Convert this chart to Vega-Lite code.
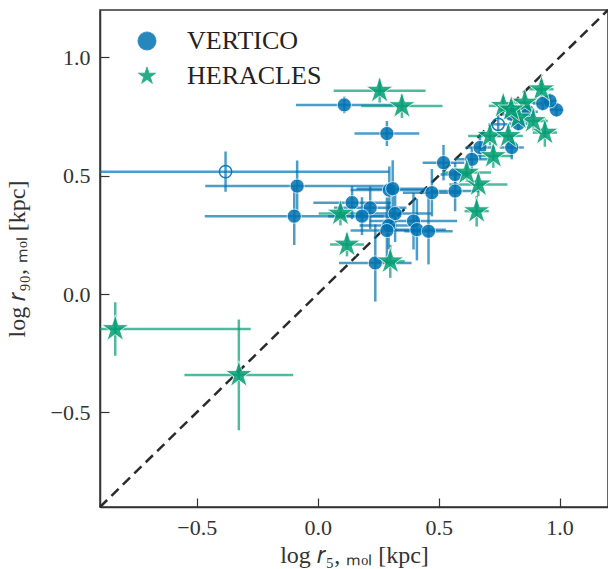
{
  "$schema": "https://vega.github.io/schema/vega-lite/v6.json",
  "width": 508,
  "height": 497,
  "autosize": {"type": "none"},
  "padding": {"left": 100, "top": 10, "right": 0, "bottom": 62},
  "datasets": {
    "pts": [
      {"survey": "VERTICO", "x": 0.110, "y": 0.799, "xerr": 0.20, "yerr": 0.035, "open": false},
      {"survey": "VERTICO", "x": 0.286, "y": 0.678, "xerr": 0.134, "yerr": 0.053, "open": false},
      {"survey": "VERTICO", "x": -0.381, "y": 0.517, "xerr": 0.677, "yerr": 0.085, "open": true},
      {"survey": "VERTICO", "x": -0.085, "y": 0.456, "xerr": 0.38, "yerr": 0.108, "open": false},
      {"survey": "VERTICO", "x": -0.097, "y": 0.329, "xerr": 0.37, "yerr": 0.122, "open": false},
      {"survey": "VERTICO", "x": 0.472, "y": 0.428, "xerr": 0.12, "yerr": 0.10, "open": false},
      {"survey": "VERTICO", "x": 0.520, "y": 0.555, "xerr": 0.086, "yerr": 0.075, "open": false},
      {"survey": "VERTICO", "x": 0.568, "y": 0.435, "xerr": 0.10, "yerr": 0.085, "open": false},
      {"survey": "VERTICO", "x": 0.568, "y": 0.505, "xerr": 0.06, "yerr": 0.05, "open": false},
      {"survey": "VERTICO", "x": 0.637, "y": 0.569, "xerr": 0.07, "yerr": 0.05, "open": false},
      {"survey": "VERTICO", "x": 0.671, "y": 0.619, "xerr": 0.06, "yerr": 0.05, "open": false},
      {"survey": "VERTICO", "x": 0.802, "y": 0.619, "xerr": 0.05, "yerr": 0.05, "open": false},
      {"survey": "VERTICO", "x": 0.746, "y": 0.717, "xerr": 0.04, "yerr": 0.04, "open": true},
      {"survey": "VERTICO", "x": 0.987, "y": 0.778, "xerr": 0.03, "yerr": 0.03, "open": false},
      {"survey": "VERTICO", "x": 0.960, "y": 0.816, "xerr": 0.03, "yerr": 0.03, "open": false},
      {"survey": "VERTICO", "x": 0.930, "y": 0.805, "xerr": 0.04, "yerr": 0.03, "open": false},
      {"survey": "VERTICO", "x": 0.830, "y": 0.720, "xerr": 0.04, "yerr": 0.03, "open": false},
      {"survey": "VERTICO", "x": 0.870, "y": 0.770, "xerr": 0.04, "yerr": 0.03, "open": false},
      {"survey": "VERTICO", "x": 0.800, "y": 0.760, "xerr": 0.04, "yerr": 0.03, "open": false},
      {"survey": "VERTICO", "x": 0.142, "y": 0.386, "xerr": 0.16, "yerr": 0.07, "open": false},
      {"survey": "VERTICO", "x": 0.217, "y": 0.364, "xerr": 0.15, "yerr": 0.09, "open": false},
      {"survey": "VERTICO", "x": 0.183, "y": 0.329, "xerr": 0.14, "yerr": 0.08, "open": false},
      {"survey": "VERTICO", "x": 0.296, "y": 0.439, "xerr": 0.16, "yerr": 0.10, "open": false},
      {"survey": "VERTICO", "x": 0.310, "y": 0.445, "xerr": 0.15, "yerr": 0.12, "open": false},
      {"survey": "VERTICO", "x": 0.320, "y": 0.340, "xerr": 0.15, "yerr": 0.12, "open": false},
      {"survey": "VERTICO", "x": 0.293, "y": 0.289, "xerr": 0.12, "yerr": 0.10, "open": false},
      {"survey": "VERTICO", "x": 0.286, "y": 0.268, "xerr": 0.15, "yerr": 0.14, "open": false},
      {"survey": "VERTICO", "x": 0.396, "y": 0.308, "xerr": 0.18, "yerr": 0.12, "open": false},
      {"survey": "VERTICO", "x": 0.410, "y": 0.272, "xerr": 0.12, "yerr": 0.13, "open": false},
      {"survey": "VERTICO", "x": 0.458, "y": 0.265, "xerr": 0.10, "yerr": 0.14, "open": false},
      {"survey": "VERTICO", "x": 0.238, "y": 0.131, "xerr": 0.15, "yerr": 0.163, "open": false},
      {"survey": "HERACLES", "x": 0.256, "y": 0.859, "xerr": 0.19, "yerr": 0.05, "open": false},
      {"survey": "HERACLES", "x": 0.348, "y": 0.794, "xerr": 0.168, "yerr": 0.05, "open": false},
      {"survey": "HERACLES", "x": -0.837, "y": -0.148, "xerr": 0.56, "yerr": 0.113, "open": false},
      {"survey": "HERACLES", "x": -0.326, "y": -0.342, "xerr": 0.225, "yerr": 0.234, "open": false},
      {"survey": "HERACLES", "x": 0.094, "y": 0.340, "xerr": 0.09, "yerr": 0.05, "open": false},
      {"survey": "HERACLES", "x": 0.121, "y": 0.209, "xerr": 0.07, "yerr": 0.05, "open": false},
      {"survey": "HERACLES", "x": 0.300, "y": 0.138, "xerr": 0.06, "yerr": 0.07, "open": false},
      {"survey": "HERACLES", "x": 0.657, "y": 0.350, "xerr": 0.05, "yerr": 0.065, "open": false},
      {"survey": "HERACLES", "x": 0.664, "y": 0.463, "xerr": 0.12, "yerr": 0.05, "open": false},
      {"survey": "HERACLES", "x": 0.616, "y": 0.513, "xerr": 0.10, "yerr": 0.04, "open": false},
      {"survey": "HERACLES", "x": 0.726, "y": 0.583, "xerr": 0.08, "yerr": 0.05, "open": false},
      {"survey": "HERACLES", "x": 0.712, "y": 0.668, "xerr": 0.09, "yerr": 0.04, "open": false},
      {"survey": "HERACLES", "x": 0.788, "y": 0.668, "xerr": 0.06, "yerr": 0.05, "open": false},
      {"survey": "HERACLES", "x": 0.767, "y": 0.795, "xerr": 0.06, "yerr": 0.04, "open": false},
      {"survey": "HERACLES", "x": 0.925, "y": 0.865, "xerr": 0.05, "yerr": 0.04, "open": false},
      {"survey": "HERACLES", "x": 0.856, "y": 0.809, "xerr": 0.05, "yerr": 0.04, "open": false},
      {"survey": "HERACLES", "x": 0.939, "y": 0.682, "xerr": 0.05, "yerr": 0.06, "open": false},
      {"survey": "HERACLES", "x": 0.891, "y": 0.731, "xerr": 0.06, "yerr": 0.04, "open": false},
      {"survey": "HERACLES", "x": 0.829, "y": 0.746, "xerr": 0.05, "yerr": 0.04, "open": false},
      {"survey": "HERACLES", "x": 0.800, "y": 0.780, "xerr": 0.05, "yerr": 0.04, "open": false}
    ],
    "diag": [{"x": -0.9, "y": -0.9, "x2": 1.2, "y2": 1.2}]
  },
  "layer": [
    {
      "data": {"name": "diag"},
      "mark": {"type": "rule", "color": "#2b2b2b", "strokeWidth": 2.5, "strokeDash": [10, 6]},
      "encoding": {
        "x": {"field": "x", "type": "quantitative", "title": "log 𝑟₅, ₘₒₗ [kpc]", "scale": {"domain": [-0.9, 1.2], "nice": false, "zero": false},
              "axis": {"values": [-0.5, 0, 0.5, 1.0], "format": ".1f"}},
        "y": {"field": "y", "type": "quantitative", "title": "log 𝑟₉₀, ₘₒₗ [kpc]", "scale": {"domain": [-0.9, 1.2], "nice": false, "zero": false},
              "axis": {"values": [-0.5, 0, 0.5, 1.0], "format": ".1f"}},
        "x2": {"field": "x2"},
        "y2": {"field": "y2"}
      }
    },
    {
      "data": {"name": "pts"},
      "mark": {"type": "errorbar", "ticks": false, "thickness": 2.5, "opacity": 0.7, "clip": true},
      "encoding": {
        "x": {"field": "x", "type": "quantitative", "title": "log 𝑟₅, ₘₒₗ [kpc]"},
        "xError": {"field": "xerr"},
        "y": {"field": "y", "type": "quantitative", "title": "log 𝑟₉₀, ₘₒₗ [kpc]"},
        "color": {"field": "survey", "type": "nominal", "title": null}
      }
    },
    {
      "data": {"name": "pts"},
      "mark": {"type": "errorbar", "ticks": false, "thickness": 2.5, "opacity": 0.7, "clip": true},
      "encoding": {
        "x": {"field": "x", "type": "quantitative", "title": "log 𝑟₅, ₘₒₗ [kpc]"},
        "y": {"field": "y", "type": "quantitative", "title": "log 𝑟₉₀, ₘₒₗ [kpc]"},
        "yError": {"field": "yerr"},
        "color": {"field": "survey", "type": "nominal", "title": null}
      }
    },
    {
      "data": {"name": "pts"},
      "transform": [{"filter": "!datum.open"}],
      "mark": {"type": "point", "filled": true, "opacity": 0.85, "stroke": "white", "strokeWidth": 0.8, "clip": true},
      "encoding": {
        "x": {"field": "x", "type": "quantitative", "title": "log 𝑟₅, ₘₒₗ [kpc]"},
        "y": {"field": "y", "type": "quantitative", "title": "log 𝑟₉₀, ₘₒₗ [kpc]"},
        "color": {"field": "survey", "type": "nominal", "title": null,
                  "scale": {"domain": ["VERTICO", "HERACLES"], "range": ["#0173b2", "#029e73"]}},
        "shape": {"field": "survey", "type": "nominal", "title": null,
                  "scale": {"domain": ["VERTICO", "HERACLES"], "range": ["circle", "M0,-1L0.225,-0.309L0.951,-0.309L0.363,0.118L0.588,0.809L0,0.382L-0.588,0.809L-0.363,0.118L-0.951,-0.309L-0.225,-0.309Z"]}},
        "size": {"condition": {"test": "datum.survey === 'HERACLES'", "value": 800}, "value": 200}
      }
    },
    {
      "data": {"name": "pts"},
      "transform": [{"filter": "datum.open"}],
      "mark": {"type": "point", "filled": false, "shape": "circle", "size": 150, "strokeWidth": 1.5, "opacity": 0.9, "color": "#0173b2"},
      "encoding": {
        "x": {"field": "x", "type": "quantitative", "title": "log 𝑟₅, ₘₒₗ [kpc]"},
        "y": {"field": "y", "type": "quantitative", "title": "log 𝑟₉₀, ₘₒₗ [kpc]"}
      }
    }
  ],
  "config": {
    "view": {"stroke": "#333333", "strokeWidth": 1.5},
    "font": "Liberation Serif",
    "axis": {
      "labelFont": "Liberation Serif", "labelFontSize": 22, "labelColor": "#333333",
      "titleFont": "Liberation Serif", "titleFontSize": 24, "titleFontWeight": "normal", "titleColor": "#333333",
      "domainColor": "#333333", "domainWidth": 1.5,
      "tickColor": "#333333", "tickWidth": 1.2, "tickSize": -9,
      "labelPadding": 19, "grid": false
    },
    "axisX": {"titlePadding": 5},
    "axisY": {"titlePadding": 21},
    "legend": {
      "orient": "none", "legendX": 34, "legendY": 18,
      "labelFont": "Liberation Serif", "labelFontSize": 26, "labelColor": "#222222",
      "symbolSize": 330, "symbolOpacity": 0.85, "symbolStrokeColor": "white", "symbolStrokeWidth": 0.8,
      "labelOffset": 27, "rowPadding": 9
    }
  }
}
